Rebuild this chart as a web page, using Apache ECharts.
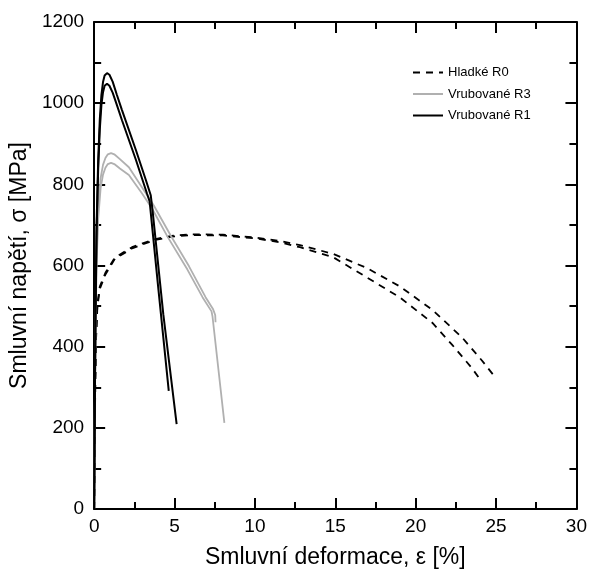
<!DOCTYPE html>
<html>
<head>
<meta charset="utf-8">
<script src="https://cdn.jsdelivr.net/npm/echarts@6/dist/echarts.min.js"></script>
<style>html,body{margin:0;padding:0;background:#fff}#c{width:590px;height:576px}</style>
</head>
<body>
<div id="c"></div>
<script>
// Series data: [strain %, stress MPa]
var seriesNames = ['Hladké R0', 'Vrubované R3', 'Vrubované R1'];
var xTicks = [0, 5, 10, 15, 20, 25, 30];
var yTicks = [0, 200, 400, 600, 800, 1000, 1200];

var r0a = [[0,0],[0.03,150],[0.07,320],[0.12,430],[0.2,505],[0.35,548],[0.7,582],[1.3,620],[2.4,646],[3.7,664],[4.8,673],[6,677],[8,676],[10,669],[11.6,660],[12.8,650],[14.84,629],[16.95,594],[18.99,549],[21.03,491],[22.88,423],[24.12,366],[24.98,323]];
var r0b = [[0,0],[0.03,140],[0.07,310],[0.12,420],[0.2,498],[0.35,542],[0.7,578],[1.3,617],[2.4,643],[3.7,662],[4.8,671],[6,675],[8,674],[10,667],[11.6,657],[12.8,645],[14.84,621],[16.95,571],[18.99,522],[21.03,459],[22.26,405],[23.5,347],[23.99,320]];
var r3a = [[0,0],[0.03,200],[0.08,450],[0.15,620],[0.25,740],[0.4,815],[0.55,848],[0.7,865],[0.85,874],[1.05,877],[1.25,874],[1.6,862],[2.16,842],[2.97,793],[3.71,748],[4.76,674],[5.9,598],[6.93,522],[7.4,492],[7.53,478],[7.55,460]];
var r3b = [[0,0],[0.03,190],[0.08,430],[0.15,600],[0.25,715],[0.4,790],[0.55,824],[0.7,841],[0.85,850],[1.05,853],[1.25,850],[1.6,839],[2.16,823],[2.97,778],[3.59,741],[4.58,670],[5.8,590],[6.74,522],[7.3,487],[7.36,475],[8.1,212]];
var r1a = [[0,0],[0.03,200],[0.08,480],[0.15,700],[0.25,860],[0.35,960],[0.45,1020],[0.55,1052],[0.65,1068],[0.8,1074],[0.95,1070],[1.15,1053],[1.4,1022],[1.73,983],[2.6,884],[3.22,810],[3.52,773],[3.62,740],[4.3,480],[5.13,209]];
var r1b = [[0,0],[0.03,195],[0.08,465],[0.15,680],[0.25,838],[0.35,935],[0.45,995],[0.55,1027],[0.65,1043],[0.8,1048],[0.95,1043],[1.15,1026],[1.4,997],[1.73,958],[2.6,860],[3.28,778],[3.45,758],[4.0,540],[4.64,291]];

var FONT = 'Liberation Sans, Arial, sans-serif';
var chart = echarts.init(document.getElementById('c'), null, {renderer: 'canvas'});

function axisBase(extra) {
  return Object.assign({
    type: 'value',
    axisLine: {show: true, onZero: false, lineStyle: {color: '#000', width: 2}},
    axisTick: {show: true, inside: true, length: 11, lineStyle: {color: '#000', width: 2}},
    minorTick: {show: true, splitNumber: 2, length: 7, lineStyle: {color: '#000', width: 2}},
    splitLine: {show: false},
    minorSplitLine: {show: false}
  }, extra);
}

var dashStyle = {color: '#000', width: 1.8, type: [7, 6]};
var greyStyle = {color: '#b0b0b0', width: 1.8};
var blackStyle = {color: '#000', width: 2};

function ser(name, data, style) {
  return {name: name, type: 'line', data: data, symbol: 'none', smooth: false,
    lineStyle: style, itemStyle: {color: style.color}, xAxisIndex: 0, yAxisIndex: 0,
    animation: false, z: 3};
}

chart.setOption({
  animation: false,
  backgroundColor: '#fff',
  grid: {left: 93, right: 12, top: 22, bottom: 67, containLabel: false},
  legend: {
    data: seriesNames, orient: 'vertical', left: 412, top: 66, padding: 0,
    itemWidth: 30, itemHeight: 14, itemGap: 8.5,
    itemStyle: {opacity: 0, borderWidth: 0},
    textStyle: {fontFamily: FONT, fontSize: 13, color: '#000'}
  },
  xAxis: [
    axisBase({min: 0, max: 30, interval: 5, position: 'bottom',
      name: 'Smluvní deformace, ε [%]', nameLocation: 'middle', nameGap: 37,
      nameTextStyle: {fontFamily: FONT, fontSize: 23, color: '#000'},
      axisLabel: {show: true, margin: 8, fontFamily: FONT, fontSize: 19, color: '#000',
        formatter: function (v) { return xTicks.indexOf(v) >= 0 ? String(v) : ''; }}}),
    axisBase({min: 0, max: 30, interval: 5, position: 'top', axisLabel: {show: false}})
  ],
  yAxis: [
    axisBase({min: 0, max: 1200, interval: 200, position: 'left',
      name: 'Smluvní napětí, σ [MPa]', nameLocation: 'middle', nameGap: 57, nameRotate: 90,
      nameTextStyle: {fontFamily: FONT, fontSize: 23, color: '#000'},
      axisLabel: {show: true, margin: 10, fontFamily: FONT, fontSize: 19, color: '#000',
        formatter: function (v) { return yTicks.indexOf(v) >= 0 ? String(v) : ''; }}}),
    axisBase({min: 0, max: 1200, interval: 200, position: 'right', axisLabel: {show: false}})
  ],
  series: [
    ser(seriesNames[0], r0a, dashStyle),
    ser(seriesNames[0], r0b, dashStyle),
    ser(seriesNames[1], r3a, greyStyle),
    ser(seriesNames[1], r3b, greyStyle),
    ser(seriesNames[2], r1a, blackStyle),
    ser(seriesNames[2], r1b, blackStyle)
  ]
});
</script>
</body>
</html>
